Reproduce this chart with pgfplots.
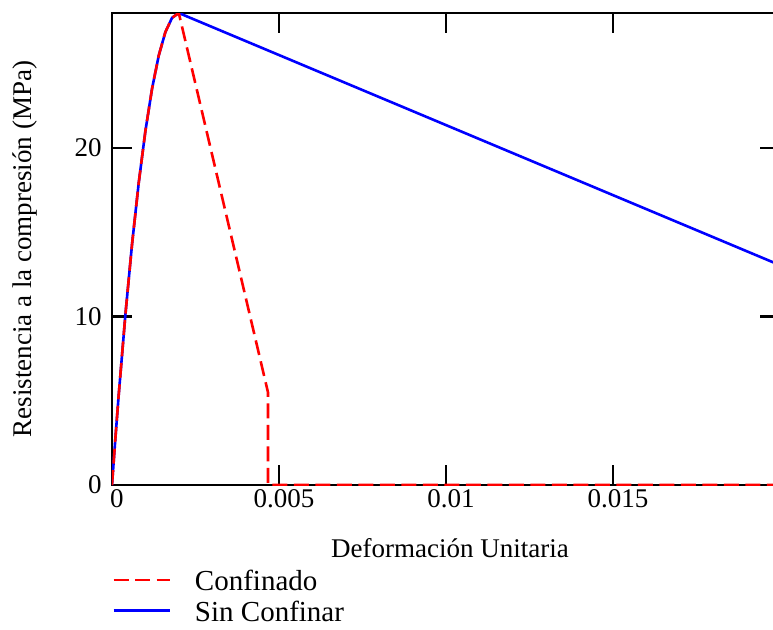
\documentclass[border=0pt]{standalone}
\usepackage{pgfplots}
\pgfplotsset{compat=1.18}
\usepackage{fontspec}
\setmainfont{Liberation Serif}

% Stress-strain curves: parabolic ascending branch, linear softening
\pgfplotstableread{
e        f
0        0
0.0001   2.73
0.0002   5.32
0.0004   10.08
0.0006   14.28
0.0008   17.92
0.0010   21.00
0.0012   23.52
0.0014   25.48
0.0016   26.88
0.0018   27.72
0.0020   28.00
0.00467  5.50
0.00467  0
0.0200   0
}\confinado

\pgfplotstableread{
e        f
0        0
0.0001   2.73
0.0002   5.32
0.0004   10.08
0.0006   14.28
0.0008   17.92
0.0010   21.00
0.0012   23.52
0.0014   25.48
0.0016   26.88
0.0018   27.72
0.0020   28.00
0.0200   13.04
}\sinconfinar

\begin{document}
\fontsize{13.5}{16}\selectfont
\begin{tikzpicture}
\begin{axis}[
  scale only axis,
  width=334pt, height=236pt,
  xmin=0, xmax=0.02, ymin=0, ymax=28,
  axis line style={black, line width=1.2pt},
  tick style={black, line width=1.2pt},
  tick align=inside,
  major tick length=10pt,
  xtick={0,0.005,0.01,0.015},
  xticklabels={0,0.005,0.01,0.015},
  ytick={0,10,20},
  scaled x ticks=false,
  /pgf/number format/assume math mode=true,
  xticklabel style={anchor=center, inner sep=0pt, yshift=-7pt, xshift=2.5pt, font=\fontsize{13.5}{16}\selectfont},
  yticklabel style={anchor=east, inner sep=0pt, xshift=-5pt, font=\fontsize{13.5}{16}\selectfont},
  xlabel={Deformación Unitaria},
  ylabel={Resistencia a la compresión (MPa)},
  xlabel style={at={(axis description cs:0.506,-0.1335)}, anchor=center, inner sep=0pt, font=\fontsize{13.5}{16}\selectfont},
  ylabel style={at={(axis description cs:-0.13,0.5)}, anchor=center, inner sep=0pt, rotate=0, font=\fontsize{13.5}{16}\selectfont},
  legend style={draw=none, fill=none, at={(axis description cs:0,-0.239)}, anchor=west,
    inner sep=0pt, row sep=3pt, font=\fontsize{14.5}{17}\selectfont,
    nodes={inner sep=0pt, anchor=base west},
    /tikz/every odd column/.append style={column sep=12pt}},
  legend cell align=left,
  legend image code/.code={\draw[#1] (0pt,0.4em) -- (28pt,0.4em);},
  reverse legend,
]
\addplot[blue, line width=1.3pt] table[x=e, y=f] {\sinconfinar};
\addlegendentry{Sin Confinar}
\addplot[red, line width=1.3pt, dash pattern=on 7.5pt off 3.25pt] table[x=e, y=f] {\confinado};
\addlegendentry{Confinado}
\end{axis}
\pgfresetboundingbox
\useasboundingbox (-56pt,-72pt) rectangle (330.5pt,242.5pt);
\end{tikzpicture}
\end{document}
